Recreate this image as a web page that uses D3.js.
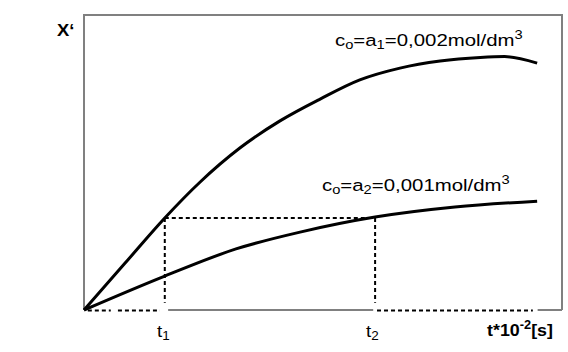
<!DOCTYPE html>
<html>
<head>
<meta charset="utf-8">
<script src="https://cdn.jsdelivr.net/npm/d3@7"></script>
<style>
  body { margin: 0; background: #fff; }
  text { font-family: "Liberation Sans", Arial, sans-serif; fill: #000; }
</style>
</head>
<body>
<div id="chart"></div>
<script>
// curve data (t in % of axis, X' in % of axis)
const upperT = [0, 8.6, 16.9, 24.3, 32.6, 41.0, 49.4, 57.7, 66.1, 74.5, 82.9, 88.0, 94.8]
const upperX = [0, 15.9, 31.2, 43.4, 54.9, 64.1, 71.5, 78.0, 82.0, 84.4, 85.6, 85.9, 83.7]
const lowerT = [0, 16.9, 31.8, 45.2, 60.9, 77.6, 94.8]
const lowerX = [0, 11.5, 20.7, 26.4, 31.5, 34.9, 36.9]

const t1 = 16.9
const t2 = 60.9
const level = 31.2

// pieces of the bottom axis
const axisDashed = [[0.8, 5.6], [7.1, 15.9], [61.3, 93.9]]
const axisGray = [[17.6, 60.5], [94.9, 100]]

const width = 568
const height = 352
const margin = { top: 15, right: 6, bottom: 42, left: 84 }

const svg = d3.select("#chart")
    .append("svg")
    .attr("width", width)
    .attr("height", height)

const x = d3.scaleLinear().domain([0, 100]).range([margin.left, width - margin.right])
const y = d3.scaleLinear().domain([0, 100]).range([height - margin.bottom, margin.top])

// frame: left, top, right
svg.append("path")
    .attr("d", `M${x(0)},${y(0)}V${y(100)}H${x(100)}V${y(0)}`)
    .attr("fill", "none")
    .attr("stroke", "#808080")
    .attr("stroke-width", 2)

svg.selectAll(".axisGray")
    .data(axisGray)
    .join("line")
    .attr("class", "axisGray")
    .attr("x1", d => x(d[0]))
    .attr("x2", d => x(d[1]))
    .attr("y1", y(0))
    .attr("y2", y(0))
    .attr("stroke", "#808080")
    .attr("stroke-width", 2)

svg.selectAll(".axisDash")
    .data(axisDashed)
    .join("line")
    .attr("class", "axisDash")
    .attr("x1", d => x(d[0]))
    .attr("x2", d => x(d[1]))
    .attr("y1", y(0) + 0.5)
    .attr("y2", y(0) + 0.5)
    .attr("stroke", "#000")
    .attr("stroke-width", 2)
    .attr("stroke-dasharray", "4,3")

// dotted guides
const guides = [
    [[t1, level], [t2, level]],
    [[t1, level], [t1, 2.5]],
    [[t2, level], [t2, 2.5]]
]
svg.selectAll(".guide")
    .data(guides)
    .join("line")
    .attr("class", "guide")
    .attr("x1", d => x(d[0][0]))
    .attr("y1", d => y(d[0][1]))
    .attr("x2", d => x(d[1][0]))
    .attr("y2", d => y(d[1][1]))
    .attr("stroke", "#000")
    .attr("stroke-width", 2)
    .attr("stroke-dasharray", "4,3")

const line = d3.line()
    .x(d => x(d[0]))
    .y(d => y(d[1]))
    .curve(d3.curveMonotoneX)

svg.append("path")
    .datum(d3.zip(upperT, upperX))
    .attr("d", line)
    .attr("fill", "none")
    .attr("stroke", "#000")
    .attr("stroke-width", 3)

svg.append("path")
    .datum(d3.zip(lowerT, lowerX))
    .attr("d", line)
    .attr("fill", "none")
    .attr("stroke", "#000")
    .attr("stroke-width", 3)

// labels (the source picture is a bit stretched sideways)
function label(px, py, parts, size, bold, sx) {
    const g = svg.append("g").attr("transform", `translate(${px},${py}) scale(${sx},1)`)
    const t = g.append("text")
        .attr("font-size", size)
        .attr("font-weight", bold ? "bold" : "normal")
    parts.forEach(p => {
        const s = t.append("tspan").text(p.s)
        if (p.sub) s.attr("font-size", size * 0.72).attr("dy", 3)
        if (p.sup) s.attr("font-size", size * 0.72).attr("dy", -7)
        if (p.back) s.attr("dy", p.back)
    })
    return g
}

label(57, 36, [{ s: "X‘" }], 16, true, 1.15)

label(335, 46, [
    { s: "c" }, { s: "o", sub: true }, { s: "=a", back: -3 }, { s: "1", sub: true },
    { s: "=0,002mol/dm", back: -3 }, { s: "3", sup: true }
], 17, false, 1.2)

label(322, 191, [
    { s: "c" }, { s: "o", sub: true }, { s: "=a", back: -3 }, { s: "2", sub: true },
    { s: "=0,001mol/dm", back: -3 }, { s: "3", sup: true }
], 17, false, 1.2)

label(157, 337, [{ s: "t" }, { s: "1", sub: true }], 17, false, 1.1)
label(366, 337, [{ s: "t" }, { s: "2", sub: true }], 17, false, 1.1)

label(487, 336, [{ s: "t*10" }, { s: "-2", sup: true }, { s: "[s]", back: 7 }], 17, true, 1.05)
</script>
</body>
</html>
